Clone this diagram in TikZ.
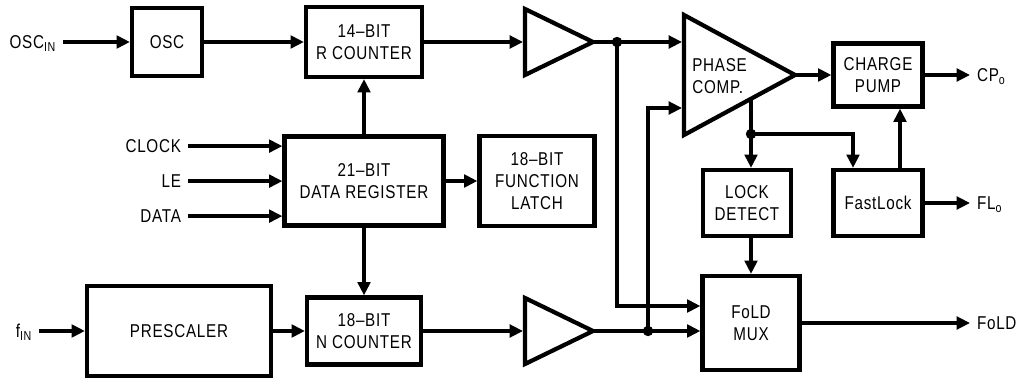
\documentclass[tikz,border=0pt]{standalone}
\usepackage{fontspec}
\setmainfont{Liberation Sans}[FakeStretch=0.82, LetterSpace=4]
\usetikzlibrary{arrows.meta, positioning, calc}

\begin{document}
\begin{tikzpicture}[
    x=0.025cm, y=-0.025cm,
    font=\fontsize{13.2}{15.6}\selectfont,
    blocknode/.style={rectangle, draw=black, line width=3pt, align=center, inner sep=0pt},
    sizepx/.style 2 args={minimum width=#1*0.025cm, minimum height=#2*0.025cm},
    bufnode/.style={draw=black, line width=3pt, line join=miter},
    dotnode/.style={circle, fill=black, inner sep=0pt, minimum size=0.26cm},
    lbl/.style={inner sep=0pt, outer sep=5pt},
    wire/.style={line width=2.3pt},
    arrow/.style={line width=2.3pt, -{Triangle[length=9.5pt, width=9pt]}}
]
\useasboundingbox (0,0) rectangle (1016,379);

% blocks
\node[blocknode, sizepx={70}{68}] (osc) at (167,42) {OSC};
\node[blocknode, sizepx={116}{70}] (rcnt) at (364,42) {14--BIT\\R COUNTER};
\node[blocknode, sizepx={159}{89}] (datareg) at (364,181) {21--BIT\\DATA REGISTER};
\node[blocknode, sizepx={115}{90}, text depth=0pt] (latch) at (537,181) {18--BIT\\FUNCTION\\LATCH};
\node[blocknode, sizepx={184}{90}] (prescaler) at (179,331) {PRESCALER};
\node[blocknode, sizepx={114}{67}] (ncnt) at (364,331) {18--BIT\\N COUNTER};
\node[blocknode, sizepx={89}{63}] (chgpump) at (878,75) {CHARGE\\PUMP};
\node[blocknode, sizepx={88}{66}] (lockdet) at (747,203) {LOCK\\DETECT};
\node[blocknode, sizepx={89}{66}] (fastlock) at (878,203) {FastLock};
\node[blocknode, sizepx={97}{94}] (foldmux) at (751,323) {FoLD\\MUX};

% buffers and phase comparator
\coordinate (tbtop) at (525,9);
\coordinate (tbbot) at (525,75);
\coordinate (tbtip) at (593,42);
\coordinate (tbin) at (523,42);
\draw[bufnode] (tbtop) -- (tbtip) -- (tbbot) -- cycle;

\coordinate (bbtop) at (525,298);
\coordinate (bbbot) at (525,364);
\coordinate (bbtip) at (593,331);
\coordinate (bbin) at (523,331);
\draw[bufnode] (bbtop) -- (bbtip) -- (bbbot) -- cycle;

\coordinate (pctop) at (684,15);
\coordinate (pcbot) at (684,135);
\coordinate (pctip) at (795,75);
\coordinate (pcin1) at (682,42);
\coordinate (pcin2) at (682,108);
\coordinate (pcout) at (751,99);
\draw[bufnode] (pctop) -- (pctip) -- (pcbot) -- cycle;
\node[anchor=west, align=left, inner sep=0pt] (pclabel) at (692,76) {PHASE\\COMP.};

% junctions
\node[dotnode] (j1) at (617,42) {};
\node[dotnode] (j2) at (648,331) {};
\node[dotnode] (j3) at (751,134) {};

% pin labels
\node[lbl, anchor=base east] (oscin) at (63,48.5) {OSC\textsubscript{IN}};
\node[lbl, anchor=base east] (fin) at (39,337.5) {f\textsubscript{IN}};
\node[lbl, anchor=base east] (clk) at (188,152.5) {CLOCK};
\node[lbl, anchor=base east] (le) at (188,187.5) {LE};
\node[lbl, anchor=base east] (dat) at (188,222.5) {DATA};
\node[lbl, anchor=base west] (cpo) at (970,81.5) {CP\textsubscript{o}};
\node[lbl, anchor=base west] (flo) at (970,209.5) {FL\textsubscript{o}};
\node[lbl, anchor=base west] (foldout) at (970,329.5) {FoLD};

% connections
\draw[arrow] (oscin.east |- osc.west) -- (osc.west);
\draw[arrow] (osc) -- (rcnt);
\draw[arrow] (rcnt) -- (tbin);
\draw[arrow] (tbtip) -- (pcin1);
\draw[arrow] (j1.center) |- (foldmux.west |- 0,306);
\draw[arrow] (j2.center) |- (pcin2);
\draw[arrow] (bbtip) -- (foldmux.west |- 0,331);
\draw[arrow] (ncnt) -- (bbin);
\draw[arrow] (prescaler) -- (ncnt);
\draw[arrow] (fin.east |- prescaler.west) -- (prescaler.west);
\draw[arrow] (clk.east) -- (clk.east -| datareg.west);
\draw[arrow] (le.east) -- (le.east -| datareg.west);
\draw[arrow] (dat.east) -- (dat.east -| datareg.west);
\draw[arrow] (datareg) -- (rcnt);
\draw[arrow] (datareg) -- (ncnt);
\draw[arrow] (datareg) -- (latch);
\draw[arrow] (pctip) -- (chgpump);
\draw[arrow] (chgpump) -- (chgpump -| cpo.west);
\draw[wire] (pcout) -- (j3.center);
\draw[arrow] (j3.center) -- (j3 |- lockdet.north);
\draw[arrow] (j3.center) -| (fastlock.north -| 853,0);
\draw[arrow] (fastlock.north -| 900,0) -- (chgpump.south -| 900,0);
\draw[arrow] (fastlock) -- (fastlock -| flo.west);
\draw[arrow] (lockdet.south -| j3) -- (foldmux.north -| j3);
\draw[arrow] (foldmux) -- (foldmux -| foldout.west);
\end{tikzpicture}
\end{document}
